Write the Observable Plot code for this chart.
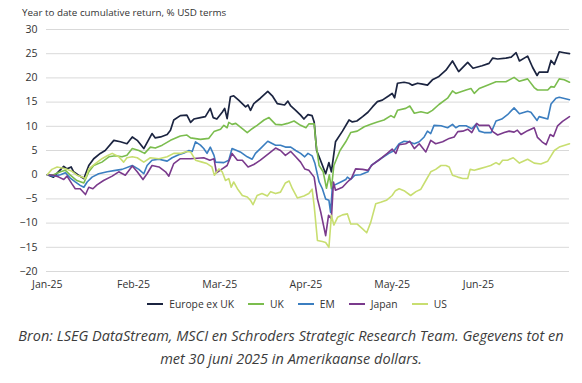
<!DOCTYPE html>
<html>
<head>
<meta charset="utf-8">
<script src="https://cdn.jsdelivr.net/npm/d3@7"></script>
<script src="https://cdn.jsdelivr.net/npm/@observablehq/plot@0.6"></script>
<style>
  html, body { margin: 0; padding: 0; background: #fff; }
  body { width: 582px; height: 383px; overflow: hidden; font-family: "Open Sans", sans-serif; }
  #title { box-sizing: border-box; height: 20px; padding: 7px 0 0 22px; font-size: 9.8px; line-height: 11px; color: #333; white-space: nowrap; }
  #legend { display: flex; justify-content: center; align-items: center; height: 16px; font-size: 10.3px; color: #333; padding-left: 12px; }
  .item { display: flex; align-items: center; margin: 0 7px; }
  .sw { width: 16px; height: 2px; margin-right: 6px; }
  #caption { margin-top: 12px; text-align: center; font-style: italic; font-size: 14.5px; line-height: 23px; color: #3c3c3c; white-space: nowrap; }
</style>
</head>
<body>
<div id="title"></div>
<div id="chart"></div>
<div id="legend"></div>
<div id="caption"></div>
<script>
const titleText = "Year to date cumulative return, % USD terms";
const captionLines = ["Bron: LSEG DataStream, MSCI en Schroders Strategic Research Team. Gegevens tot en", "met 30 juni 2025 in Amerikaanse dollars."];

const xTickIdx = [0, 21, 42, 63, 84, 105];
const xTickLabels = ["Jan-25", "Feb-25", "Mar-25", "Apr-25", "May-25", "Jun-25"];
const yTicks = [-20, -15, -10, -5, 0, 5, 10, 15, 20, 25, 30];

const seriesNames = ["Europe ex UK", "UK", "EM", "Japan", "US"];
const seriesColors = ["#1b2440", "#7bbd4e", "#3b7ec0", "#7a3a8c", "#c8de70"];

// [trading day index, cumulative return %]
const europeExUK = [[0,0],[1.5,-0.5],[2.8,0.7],[4,1.7],[4.8,1.2],[5.8,1.6],[6.4,0.6],[7.6,-0.1],[8.9,-0.8],[10.1,1.9],[11.3,3.3],[12.9,4.4],[14.1,5],[16.2,7.1],[17.8,6.8],[19.4,6.4],[20.7,7.8],[21.9,7.1],[23.5,5.4],[25.5,8.5],[26.3,7.6],[27.6,7.8],[29.2,8.3],[30,9.2],[30.8,11.3],[32.4,12.2],[34,12.3],[34.9,10.8],[35.7,11.5],[37.3,11.8],[38.5,12],[39.7,13.7],[40.4,11.8],[41.3,11.5],[42.6,12.9],[43.2,13.7],[43.8,11.6],[44.6,16.1],[45.4,16.3],[46.6,15.4],[48.3,14],[48.9,14.4],[49.5,13.3],[50.3,14.7],[51.9,15.8],[53.7,17.2],[54.8,16.3],[56,14.7],[57.8,14.4],[58.6,15.2],[59.3,14.2],[60.5,13.3],[61.7,12.3],[62.5,11.5],[63.5,12.4],[64.5,12.2],[65,10.9],[65.6,5],[66.4,3.3],[67.8,0.2],[68.6,2.5],[69.2,0.6],[69.7,3.7],[70.2,6.8],[71.9,9],[73.5,11.3],[74.3,10.9],[75.4,11.1],[76.8,12],[78.1,12.9],[79.2,14],[80.4,15.1],[81.6,15.4],[83.2,16.3],[84,16.8],[84.6,15.9],[85.3,18.9],[86.9,19.1],[88.1,18.9],[88.9,18.5],[90.2,18.9],[91.4,18.7],[92.6,18.5],[93.8,19.6],[95.4,20.3],[97.1,21.6],[98.7,23.5],[100.2,21.3],[102.4,23.2],[103.7,22],[105.9,22.5],[107.6,23],[108.5,24.1],[109.7,23.9],[111.7,24.1],[113,24.3],[114.2,25.2],[115,23.5],[117,24.5],[118.2,22.2],[119.3,20.5],[119.8,21.2],[121.9,21.2],[122.7,23.6],[123.5,22.8],[124.7,25.4],[125.9,25.2],[127.2,25]];

const uk = [[0,0],[1.5,0],[3.2,0.6],[4.4,0.9],[5.6,-0.1],[7.2,-1.2],[8.9,-1.7],[10.1,0.6],[11.3,1.9],[13.3,2.6],[15,3.7],[16.6,3.9],[18.2,3.7],[19.4,4],[20.7,5.4],[22.3,5],[23.7,4.4],[25.1,5.7],[26.3,5.5],[28,6.1],[30,7.1],[32.4,8],[34,8.2],[34.9,7.6],[37.3,7.3],[39.3,7.5],[40.6,8.9],[42.2,9.4],[43,10.2],[43.8,9.7],[44.2,10.8],[45,10.4],[45.9,10.6],[47.5,9.5],[48.7,8.7],[49.9,9.5],[51.1,10.2],[52.8,11.3],[54,11.8],[55.6,10.4],[57.2,10.3],[58.5,10.6],[60.1,11.1],[61.7,10.2],[63,9.7],[63.7,10.5],[65,10.5],[65.4,6.8],[66.2,1.9],[67.2,0.6],[68,-2.8],[68.7,0],[69.2,-2.9],[69.8,1.9],[71.3,5],[72.7,6.8],[73.9,8.7],[75.5,9],[77.2,9.9],[78.8,10.4],[80.4,10.9],[82,11.3],[83.7,12.2],[84.5,11.8],[85.3,13.3],[87.3,13.7],[88.3,14.2],[89.4,12.7],[91,13],[92.6,12.7],[93.8,13.3],[95.4,14.5],[97.5,15.8],[98.7,17.3],[99.5,16.8],[102,17.5],[103.2,17.8],[104,16.8],[105.2,17.8],[107.2,18.5],[109.3,19.2],[111.7,19.2],[113.7,20.1],[115,19.3],[117,19.8],[118.6,18],[119.4,17.5],[121.9,17.5],[122.7,18.2],[123.5,18.1],[124.7,19.8],[125.9,19.6],[127.2,19.1]];

const em = [[0,0],[1.5,-0.3],[3.2,0],[4.4,0.4],[5.6,-0.7],[6.8,-1.5],[8,-2.2],[8.9,-2.6],[9.7,-1.5],[10.9,-0.5],[12.5,0.2],[14.6,0.6],[16.6,0.9],[18.2,1.1],[20.7,1.9],[22.3,1.1],[23.5,0.2],[24.3,1.9],[25.5,3],[27.2,3.2],[29.2,2.8],[30.4,3.5],[32,4.1],[33.3,4.5],[34.5,5],[35.3,4.8],[36.1,6.8],[37.3,6.1],[38.1,5.4],[38.9,4.4],[39.7,5.7],[40.6,4],[41,2.6],[43,2.5],[44.2,3],[45,5.4],[47,4.7],[48.7,3.7],[49.9,3.2],[50.7,4.4],[51.9,5.4],[53.7,6.9],[55.6,6.1],[56.8,6.1],[58,5.7],[59.3,5.7],[60.5,5],[61.7,4.4],[62.7,3.7],[63.5,4.4],[64.5,3.9],[65.2,2.3],[66.2,-1.5],[67,-2.9],[67.8,-5],[68.6,-5.3],[69,-7.8],[69.4,-2.9],[69.8,-2.2],[71.5,-1.5],[72.7,-1],[73.1,-0.5],[73.9,-1],[74.9,-0.1],[76.3,0],[78.1,0.6],[78.9,1.9],[81.2,3.3],[83.2,4.4],[84.5,5],[85.7,6.4],[86.9,6.9],[88.1,6.8],[89.4,6.4],[90.6,6.8],[91.8,7.8],[92.6,9],[93.4,8.5],[94.2,10.2],[95.9,10.1],[97.5,9.7],[98.7,10.4],[99.5,9.7],[100.3,10.1],[102,10.1],[103.4,9.5],[104.4,10.4],[105.2,9],[106.4,8.7],[108.1,8.7],[109.3,11.1],[110.7,11.5],[112.1,12.4],[113.7,13.8],[115,12.6],[117,13.1],[117.8,12.9],[119.3,11.2],[119.8,12],[121.9,11.5],[122.7,14.6],[123.9,15.8],[124.7,16],[127.2,15.5]];

const japan = [[0,0],[1.5,-0.1],[2.8,-0.5],[4,-1],[4.8,-0.3],[6,-1.9],[6.8,-2.9],[8,-2.9],[9.3,-4.1],[10.1,-2.6],[11.1,-2.9],[12.1,-2.1],[13.7,-1.2],[15.8,-0.3],[17.4,0.6],[19,-0.1],[20.7,1.8],[21.9,0.6],[23.3,-1],[24.3,0.2],[25.5,1.9],[27.2,1.6],[28.8,0.6],[29.6,-0.3],[30.8,2.3],[32.4,3.3],[34.9,3.3],[38.1,3.5],[39.6,3],[40.6,3.3],[41.2,0.4],[42.6,1.2],[43.8,1.9],[45,4.4],[46.3,3],[47.5,3],[48.9,1.6],[50.3,2.1],[51.9,3],[54,4.4],[55.6,5.5],[56.8,5],[58,4],[59.3,4.8],[60.5,3.7],[61.7,2.6],[62.7,1.2],[63.7,0.9],[65,-0.5],[65.8,-5],[66.6,-7.7],[67.8,-12.6],[68.5,-8.4],[69.2,-9.1],[69.7,-1.5],[70.2,-3.2],[71.9,-2.6],[73.1,-1.5],[74.1,-0.7],[75.1,1.2],[76.8,1.1],[78.1,0.9],[79.2,2.1],[81.2,3.3],[82.8,4.4],[84,5.3],[84.9,4.4],[85.7,6.2],[87.3,6.4],[88.3,6.9],[89.4,5.4],[90.6,6.4],[92.2,4.7],[93.4,7.1],[94.6,6.4],[96.3,6.8],[97.9,7.5],[99.1,7.8],[100,8.9],[101.2,9],[102.4,9.4],[103.4,8.7],[104.6,10.6],[105.2,10.2],[107.6,10.2],[108.5,8.9],[109.7,8.2],[111.3,8.7],[112.5,9],[113.7,8.8],[114.5,9.2],[115.4,8.3],[117,9.1],[117.8,9.4],[118.6,9.7],[119.4,7.7],[120.5,6.8],[121.5,6.2],[122.5,8.3],[123.3,7.9],[124.3,10.1],[125.5,11],[127.2,12]];

const us = [[0,0],[1.1,1.1],[2.4,1.6],[3.6,1.4],[4.8,1.1],[6,0.7],[7.2,-0.1],[8.5,-0.5],[9.3,-0.8],[10.1,1.2],[11.7,2.3],[13.3,3.3],[14.6,3.9],[15.8,4.4],[17.4,3.7],[18.6,2.6],[19.4,3.5],[20.7,3.7],[21.9,3.5],[23.5,2.6],[25.1,3.5],[27.2,3.3],[29.2,3.7],[30.8,4.4],[32.4,4.4],[34,4.8],[34.9,4.7],[36.1,3],[37.7,2.6],[38.9,2.3],[40.1,1.6],[40.7,-0.1],[41.8,1.2],[42.6,0.6],[43.4,-1.2],[44.2,-0.8],[44.8,-2.6],[45.4,-1.5],[46.3,-2.9],[47.5,-4.3],[48.7,-4.6],[49.5,-5.3],[50.1,-6.2],[51.1,-4.3],[52.3,-3.9],[53.6,-4.4],[54.4,-3.5],[55.6,-3.9],[56.8,-3.6],[58,-1.7],[58.9,-1.3],[59.7,-2.9],[60.9,-4.8],[62.5,-4.4],[63.7,-3.9],[64.5,-3],[65,-6.4],[65.8,-13.6],[67,-13.8],[67.8,-14],[68.6,-15],[69.2,-8.4],[69.8,-10.4],[70.7,-8.8],[71.9,-8.3],[73.1,-8.1],[73.9,-10.2],[75.5,-10.2],[76.8,-11.2],[77.8,-12],[78.8,-9.8],[80,-6],[81.2,-5.7],[82.6,-5.3],[84,-4.3],[84.8,-3.3],[85.7,-2.9],[86.9,-3.3],[88.5,-4.3],[89.8,-3.5],[91,-3],[92.2,-1.2],[93.4,0.6],[94.6,1.1],[95.9,1.9],[97.1,1.9],[97.9,1.6],[98.7,-0.1],[100,-0.5],[101.2,-0.8],[102.4,-0.8],[103,1.1],[104,0.9],[105.2,1.2],[106.8,1.6],[108,1.9],[109.3,2.5],[110.1,2.1],[110.9,3],[112.1,3],[113.5,3.5],[115,2.4],[117,3.2],[118.6,2.4],[120.2,2.2],[121.9,2.8],[122.7,3.9],[123.5,5],[124.7,5.7],[127.2,6.4]];

const seriesData = [europeExUK, uk, em, japan, us];

document.getElementById("title").textContent = titleText;

const chart = Plot.plot({
  width: 582,
  height: 276,
  marginLeft: 46,
  marginRight: 13,
  marginTop: 9,
  marginBottom: 25,
  style: { fontFamily: "Open Sans", fontSize: "10.5px", color: "#333", background: "white", overflow: "visible" },
  x: { domain: [-0.2, 127.2], ticks: xTickIdx, tickFormat: d => xTickLabels[xTickIdx.indexOf(d)], tickSize: 0, tickPadding: 9, label: null },
  y: { domain: [-20, 30], ticks: yTicks, tickSize: 0, tickPadding: 9, label: null },
  marks: [
    Plot.ruleY(yTicks, { stroke: "#d9d9d9", strokeWidth: 1 }),
    ...seriesData.map((data, i) => Plot.line(data, {
      x: d => d[0], y: d => d[1], stroke: seriesColors[i], strokeWidth: i === 0 ? 1.7 : 1.6, strokeLinejoin: "round"
    }))
  ]
});
document.getElementById("chart").appendChild(chart);

const legend = document.getElementById("legend");
seriesNames.forEach((name, i) => {
  const item = document.createElement("div");
  item.className = "item";
  const sw = document.createElement("div");
  sw.className = "sw";
  sw.style.background = seriesColors[i];
  const label = document.createElement("span");
  label.textContent = name;
  item.appendChild(sw);
  item.appendChild(label);
  legend.appendChild(item);
});

const cap = document.getElementById("caption");
captionLines.forEach((line, i) => {
  if (i) cap.appendChild(document.createElement("br"));
  cap.appendChild(document.createTextNode(line));
});
</script>
</body>
</html>
